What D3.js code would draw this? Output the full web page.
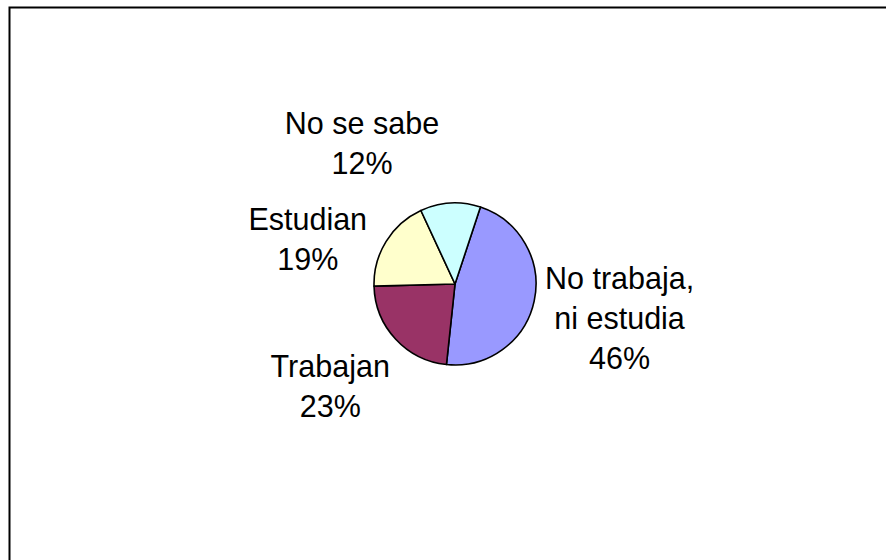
<!DOCTYPE html>
<html>
<head>
<meta charset="utf-8">
<script src="https://cdn.jsdelivr.net/npm/d3@7"></script>
<style>
  html, body { margin: 0; padding: 0; background: #fff; }
  svg { display: block; font-family: "Liberation Sans", Arial, sans-serif; }
</style>
</head>
<body>
<svg id="chart" width="886" height="560"></svg>
<script>
// datos del gráfico
var categories = ["No trabaja, ni estudia", "Trabajan", "Estudian", "No se sabe"];
var values = [46.6, 22.9, 18.5, 12.0];
var pctLabels = ["46%", "23%", "19%", "12%"];
var labelLines = [["No trabaja,", "ni estudia"], ["Trabajan"], ["Estudian"], ["No se sabe"]];
var colors = ["#9999FF", "#993366", "#FFFFCC", "#CCFFFF"];

// layout
var W = 886, H = 560,
    cx = 455, cy = 284, r = 81,
    startDeg = 18.3,
    fontSize = 30.5, lineH = 40,
    // posición de etiquetas: ángulo (grados, desde arriba) y radio
    labelAng = [101.6, 230.8, 287, 326.6],
    labelRad = [168, 161, 154, 169];

var svg = d3.select("#chart");

svg.append("rect").attr("width", W).attr("height", H).attr("fill", "#fff");

// marco (sale por la derecha y abajo)
svg.append("rect")
    .attr("x", 9.5).attr("y", 7.5)
    .attr("width", W + 20).attr("height", H + 20)
    .attr("fill", "none").attr("stroke", "#000").attr("stroke-width", 2);

var pie = d3.pie().sort(null).value(function(d){return d})
    .startAngle(startDeg * Math.PI / 180)
    .endAngle(startDeg * Math.PI / 180 + 2 * Math.PI);

var arc = d3.arc().innerRadius(0).outerRadius(r);

var g = svg.append("g").attr("transform", "translate(" + cx + "," + cy + ")");

g.selectAll("path").data(pie(values)).enter().append("path")
    .attr("d", arc)
    .attr("fill", function(d, i){return colors[i]})
    .attr("stroke", "#000").attr("stroke-width", 1.6)
    .attr("stroke-linejoin", "round");

// etiquetas
categories.forEach(function(c, i){
    var a = labelAng[i] * Math.PI / 180,
        x = Math.sin(a) * labelRad[i],
        y = -Math.cos(a) * labelRad[i];
    var lines = labelLines[i].concat([pctLabels[i]]);
    var top = y - (lines.length - 1) * lineH / 2 + fontSize * 0.36;
    var t = g.append("text")
        .attr("text-anchor", "middle")
        .attr("font-size", fontSize)
        .attr("fill", "#000");
    lines.forEach(function(l, k){
        t.append("tspan").attr("x", x).attr("y", top + k * lineH).text(l);
    });
});
</script>
</body>
</html>
